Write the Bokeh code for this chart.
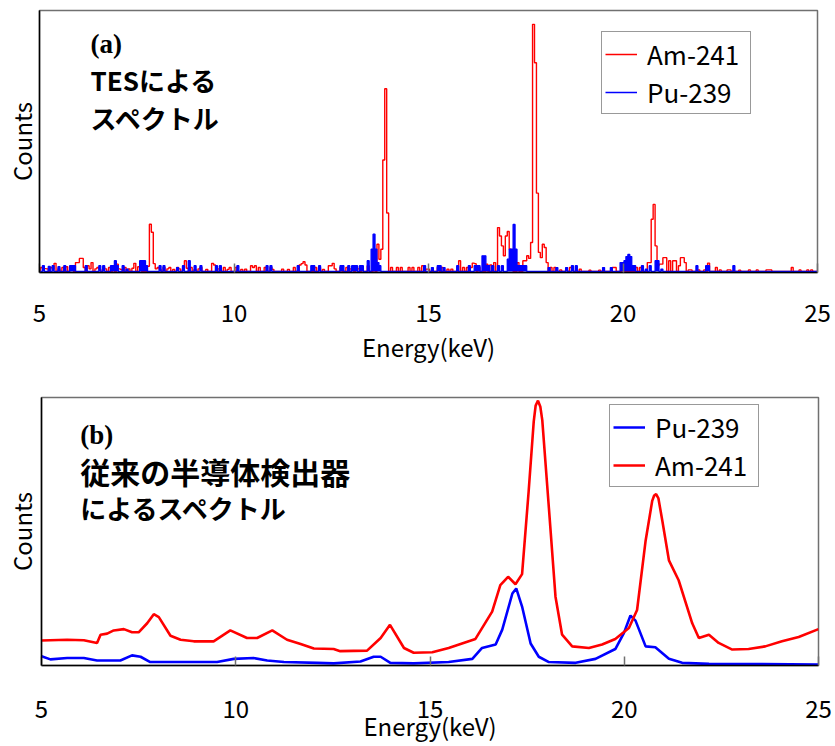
import numpy as np
from bokeh.plotting import figure
from bokeh.layouts import column
from bokeh.models import (Range1d, FixedTicker, Legend, LegendItem, Label)
from bokeh.embed import file_html
from bokeh.resources import INLINE

# ---------------- data ----------------
tick_values = [5, 10, 15, 20, 25]

# (a) TES spectrum: non-empty 0.05 keV bins (energy keV, relative counts)
tes_am_energy = [5.05, 5.1, 5.15, 5.2, 5.3, 5.35, 5.4, 5.5, 5.6, 5.7, 5.8, 5.85, 5.95, 6.0, 6.05, 6.1,
                 6.15, 6.25, 6.3, 6.35, 6.45, 6.5, 6.55, 6.65, 6.7, 6.8, 6.9, 7.0, 7.05, 7.1, 7.2, 7.3,
                 7.4, 7.45, 7.55, 7.6, 7.8, 7.85, 7.9, 7.95, 8.0, 8.05, 8.1, 8.2, 8.3, 8.35, 8.45, 8.55,
                 8.6, 8.7, 8.75, 8.8, 8.9, 9.0, 9.1, 9.15, 9.3, 9.45, 9.5, 9.6, 9.75, 9.85, 9.9, 10.05,
                 10.2, 10.3, 10.45, 10.5, 10.55, 10.65, 10.8, 10.95, 11.0, 11.25, 11.4, 11.55, 11.7,
                 11.75, 11.8, 11.85, 12.1, 12.2, 12.3, 12.45, 12.5, 12.55, 12.6, 12.75, 12.9, 13.0,
                 13.05, 13.15, 13.2, 13.3, 13.45, 13.6, 13.7, 13.75, 13.8, 13.85, 13.9, 13.95, 14.05,
                 14.2, 14.3, 14.5, 14.6, 14.75, 14.85, 14.95, 15.0, 15.25, 15.35, 15.5, 15.6, 15.8,
                 15.9, 16.0, 16.1, 16.15, 16.2, 16.3, 16.5, 16.6, 16.7, 16.8, 16.85, 16.9, 16.95, 17.0,
                 17.05, 17.1, 17.15, 17.3, 17.45, 17.5, 17.55, 17.6, 17.65, 17.7, 17.75, 17.8, 17.85,
                 17.9, 17.95, 18.0, 18.05, 18.15, 18.25, 18.4, 18.55, 18.65, 18.7, 18.9, 19.15, 19.4,
                 19.75, 19.8, 20.0, 20.35, 20.45, 20.65, 20.7, 20.75, 20.8, 20.85, 20.9, 20.95, 21.0,
                 21.05, 21.1, 21.2, 21.3, 21.35, 21.45, 21.5, 21.55, 21.6, 21.7, 21.75, 21.95, 22.1,
                 22.2, 22.4, 22.5, 22.7, 22.75, 23.0, 23.25, 23.45, 23.7, 23.75, 23.8, 24.35, 24.55,
                 24.75, 24.85]
tes_am_counts = [1.5, 0.8, 1.1, 1.0, 1.5, 0.8, 3.1, 1.0, 1.5, 1.8, 0.8, 1.2, 3.4, 3.4, 5.0, 5.0,
                 1.5, 2.2, 1.0, 3.4, 1.0, 1.5, 0.8, 1.5, 1.0, 1.5, 1.0, 2.8, 1.0, 0.8, 1.5, 1.0,
                 1.2, 3.1, 1.8, 1.0, 2.0, 18.1, 15.0, 3.0, 1.0, 1.5, 0.8, 1.5, 1.0, 1.5, 0.8, 1.5,
                 1.0, 1.0, 4.1, 1.2, 1.5, 0.8, 1.0, 1.5, 0.8, 3.1, 2.5, 1.0, 1.5, 0.8, 1.5, 1.5,
                 0.8, 0.9, 2.2, 1.5, 2.2, 1.5, 1.5, 1.5, 0.8, 0.9, 0.8, 1.5, 2.5,
                 3.0, 3.7, 2.5, 1.5, 1.5, 0.8, 2.2, 2.2, 3.1, 1.0, 1.5, 1.5, 1.0,
                 1.8, 1.8, 1.0, 1.5, 2.2, 1.0, 10.4, 4.7, 8.5, 42.7, 70.0, 22.4, 1.5,
                 1.5, 1.5, 1.5, 1.5, 1.5, 2.2, 0.9, 0.9, 1.5, 1.5, 0.9, 0.9, 4.1,
                 1.5, 1.5, 1.5, 3.2, 3.0, 1.5, 2.8, 2.5, 3.4, 16.8, 13.6, 9.8, 6.0, 13.6,
                 15.3, 8.5, 4.1, 3.4, 4.1, 4.1, 6.0, 5.0, 11.1, 94.7, 80.0, 30.0, 7.3,
                 5.3, 10.4, 9.2, 3.4, 1.5, 1.5, 0.6, 0.6, 1.5, 1.5, 0.9, 0.5, 0.5,
                 1.5, 1.5, 1.5, 1.5, 1.5, 3.4, 3.4, 20.0, 25.7, 9.8, 2.2, 2.8, 2.8,
                 5.3, 5.3, 4.1, 4.1, 4.1, 2.2, 5.3, 5.3, 3.4, 0.6, 0.6, 0.6, 0.6,
                 3.2, 1.5, 0.6, 0.6, 0.6, 0.5, 0.6, 0.6, 0.6, 0.6, 0.6, 1.5, 0.6,
                 0.6, 0.6]

tes_pu_energy = [5.1, 5.25, 5.35, 5.5, 5.65, 5.8, 5.85, 5.9, 6.2, 6.55, 6.65, 6.85, 6.9, 6.95, 7.0,
                 7.15, 7.25, 7.6, 7.65, 7.7, 7.75, 8.1, 8.2, 8.55, 8.7, 8.85, 9.0, 9.15, 9.55, 9.65,
                 10.1, 10.85, 10.95, 11.65, 12.0, 12.05, 12.2, 12.75, 12.8, 12.95, 13.05, 13.1, 13.15,
                 13.25, 13.3, 13.45, 13.55, 13.6, 13.65, 13.7, 13.75, 14.9, 15.1, 15.25, 15.3, 15.4,
                 15.75, 16.05, 16.2, 16.25, 16.3, 16.4, 16.45, 16.5, 16.55, 16.65, 16.8, 16.9, 17.05,
                 17.1, 17.15, 17.2, 17.25, 17.3, 17.35, 17.4, 17.45, 17.5, 18.1, 18.3, 18.55, 18.7,
                 18.8, 19.5, 19.7, 19.95, 20.0, 20.05, 20.1, 20.15, 20.2, 20.25, 20.3, 20.5, 20.6,
                 20.7, 20.85, 20.9, 21.0, 21.9, 22.15, 22.2, 22.85]
tes_pu_counts = [2.2, 1.9, 2.2, 1.8, 2.2, 2.2, 2.2, 2.2, 2.2, 2.2, 2.2, 2.2, 2.2, 4.1, 2.2,
                 2.2, 0.9, 4.1, 4.1, 4.1, 2.2, 2.2, 2.2, 1.5, 2.2, 4.1, 2.2, 2.2, 2.2, 2.2,
                 2.2, 2.2, 2.2, 2.2, 2.2, 2.2, 2.2, 2.2, 2.2, 2.2, 2.2, 2.2, 2.2,
                 2.2, 2.2, 4.1, 8.5, 14.3, 8.5, 3.4, 2.2, 2.2, 1.5, 2.2, 2.2, 1.5,
                 2.2, 2.2, 2.2, 2.2, 2.2, 6.0, 6.0, 2.2, 2.2, 2.2, 2.2, 2.2, 4.7,
                 8.5, 8.5, 18.0, 8.5, 2.2, 2.2, 2.2, 2.2, 2.2, 1.5, 1.5, 1.5, 2.2,
                 2.2, 1.5, 1.5, 3.4, 3.4, 4.1, 5.7, 6.5, 5.7, 2.2, 2.2, 2.2, 0.9,
                 2.2, 4.1, 4.1, 0.9, 2.2, 2.2, 2.2, 2.2]

# (b) conventional semiconductor detector spectrum
sc_am_energy = [5.0, 5.66, 6.09, 6.43, 6.52, 6.69, 6.86, 7.12, 7.33, 7.5, 7.72, 7.89, 8.02, 8.32,
                8.58, 8.92, 9.43, 9.86, 10.29, 10.55, 10.94, 11.32, 11.67, 12.01, 12.52, 12.69,
                13.38, 13.73, 13.97, 14.33, 14.58, 15.06, 15.48, 16.17, 16.6, 16.81, 17.01, 17.2,
                17.37, 17.54, 17.67, 17.72, 17.78, 17.84, 17.89, 18.06, 18.23, 18.4, 18.66, 19.09,
                19.43, 19.77, 20.12, 20.33, 20.55, 20.72, 20.77, 20.82, 20.88, 20.98, 21.15, 21.4,
                21.75, 21.92, 22.18, 22.43, 22.78, 23.2, 23.63, 24.06, 24.49, 25.0]
sc_am_counts = [9.0, 9.3, 9.1, 8.1, 11.2, 11.6, 12.8, 13.3, 12.1, 12.1, 15.5, 18.9, 17.8, 10.8,
                9.3, 8.7, 8.7, 12.8, 9.95, 9.95, 12.8, 9.3, 7.7, 6.0, 5.8, 5.0,
                5.2, 9.95, 14.9, 6.2, 4.4, 4.6, 6.2, 9.6, 19.9, 29.9, 33.0, 30.2,
                34.0, 65.3, 91.4, 97.5, 99.3, 97.0, 92.0, 59.0, 25.5, 11.2, 6.8, 6.2,
                7.5, 9.6, 13.7, 20.5, 46.6, 61.6, 63.6, 64.1, 62.5, 54.1, 39.2, 31.7,
                15.5, 9.95, 11.2, 8.1, 5.6, 5.8, 6.8, 8.7, 10.3, 13.3]

sc_pu_energy = [5.0, 5.23, 5.66, 6.09, 6.43, 7.03, 7.33, 7.55, 7.8, 9.52, 9.95, 10.46, 10.81,
                11.24, 12.1, 12.52, 13.21, 13.55, 13.73, 13.98, 14.58, 15.48, 16.09, 16.34, 16.69,
                16.86, 17.12, 17.22, 17.37, 17.59, 17.8, 18.06, 18.75, 19.26, 19.77, 19.99, 20.16,
                20.29, 20.55, 20.8, 21.15, 21.49, 22.18, 25.0]
sc_pu_counts = [3.1, 1.9, 2.4, 2.4, 1.5, 1.5, 3.4, 2.9, 0.9, 0.9, 2.1, 2.4, 1.5,
                0.9, 0.6, 0.4, 1.1, 2.9, 2.9, 0.6, 0.4, 0.9, 2.1, 6.2, 7.5,
                13.1, 26.7, 28.6, 21.8, 7.9, 2.9, 0.9, 0.6, 2.1, 5.8, 11.8, 18.4,
                16.5, 6.8, 6.5, 2.1, 0.6, 0.2, 0.0]

# histogram grid for the TES spectrum (empty bins are zero)
bin_energy = np.round(np.arange(5.0, 25.0001, 0.05), 2)


def to_hist(energies, counts):
    h = np.zeros(len(bin_energy))
    idx = {round(float(e), 2): i for i, e in enumerate(bin_energy)}
    for e, c in zip(energies, counts):
        h[idx[round(e, 2)]] = c
    return h


tes_am_hist = to_hist(tes_am_energy, tes_am_counts)
tes_pu_hist = to_hist(tes_pu_energy, tes_pu_counts)
zeros = np.zeros(len(bin_energy))

FONT = "Noto Sans CJK JP"
RED = "#FF0000"
BLUE = "#0000FF"


def style(p, tick_standoff, label_standoff, ylabel_standoff):
    p.xaxis.ticker = FixedTicker(ticks=tick_values)
    p.xaxis.major_label_text_font = FONT
    p.xaxis.major_label_text_font_size = "24px"
    p.xaxis.major_label_text_color = "black"
    p.xaxis.major_label_standoff = tick_standoff
    p.xaxis.major_tick_in = 9
    p.xaxis.major_tick_out = 0
    p.xaxis.major_tick_line_color = "#707070"
    p.xaxis.major_tick_line_width = 1.5
    p.xaxis.minor_tick_line_color = None
    p.xaxis.axis_line_color = "black"
    p.xaxis.axis_line_width = 1.5
    p.xaxis.axis_label = "Energy(keV)"
    p.xaxis.axis_label_text_font = FONT
    p.xaxis.axis_label_text_font_style = "normal"
    p.xaxis.axis_label_text_font_size = "24px"
    p.xaxis.axis_label_text_color = "black"
    p.xaxis.axis_label_standoff = label_standoff
    p.yaxis.ticker = FixedTicker(ticks=[])
    p.yaxis.minor_tick_line_color = None
    p.yaxis.major_tick_out = 0
    p.yaxis.major_tick_in = 0
    p.yaxis.major_label_standoff = 0
    p.yaxis.axis_line_color = "black"
    p.yaxis.axis_line_width = 1.5
    p.yaxis.axis_label = "Counts"
    p.yaxis.axis_label_text_font = FONT
    p.yaxis.axis_label_text_font_style = "normal"
    p.yaxis.axis_label_text_font_size = "24px"
    p.yaxis.axis_label_text_color = "black"
    p.yaxis.axis_label_standoff = ylabel_standoff
    p.grid.visible = False
    p.outline_line_color = "#707070"
    p.outline_line_width = 1.5
    p.background_fill_color = "white"
    p.border_fill_color = "white"


def legend(items, loc):
    return Legend(items=items, location=loc, label_text_font=FONT, label_text_font_size="26px",
                  label_text_color="black", glyph_width=32, glyph_height=30, label_height=30,
                  label_width=100, spacing=1, padding=3, margin=0, label_standoff=10,
                  border_line_color="#333333", border_line_width=1.5, background_fill_alpha=1.0)


# ---------------- (a) TES ----------------
p1 = figure(width=835, height=375, output_backend="svg", toolbar_location=None,
            x_range=Range1d(5, 25), y_range=Range1d(-0.4, 100), frame_align=False,
            min_border_left=37, min_border_right=18, min_border_top=10, min_border_bottom=103)
style(p1, 31, 4, 1)
r_am1 = p1.step(bin_energy, tes_am_hist, mode="center", line_color=RED, line_width=1.4)
p1.varea_step(x=bin_energy, y1=zeros, y2=tes_pu_hist, step_mode="center", fill_color=BLUE)
r_pu1 = p1.step(bin_energy, tes_pu_hist, mode="center", line_color=BLUE, line_width=1.3)
p1.add_layout(legend([LegendItem(label="Am-241", renderers=[r_am1]),
                      LegendItem(label="Pu-239", renderers=[r_pu1])], (562, 158)))
p1.add_layout(Label(x=6.31, y=87.3, text="(a)", text_font="Liberation Serif", text_font_style="bold",
                    text_font_size="27px", text_baseline="middle", text_color="black"))
p1.add_layout(Label(x=6.31, y=73.5, text="TESによる", text_font=FONT, text_font_style="bold",
                    text_font_size="26px", text_baseline="middle", text_color="black"))
p1.add_layout(Label(x=6.31, y=58.9, text="スペクトル", text_font=FONT, text_font_style="bold",
                    text_font_size="26px", text_baseline="middle", text_color="black"))

# ---------------- (b) semiconductor ----------------
p2 = figure(width=835, height=371, output_backend="svg", toolbar_location=None,
            x_range=Range1d(5, 25), y_range=Range1d(-0.4, 100.5), frame_align=False,
            min_border_left=41, min_border_right=17, min_border_top=22, min_border_bottom=81)
style(p2, 34, -13, 3)
r_pu2 = p2.line(sc_pu_energy, sc_pu_counts, line_color=BLUE, line_width=2.6)
r_am2 = p2.line(sc_am_energy, sc_am_counts, line_color=RED, line_width=2.6)
p2.add_layout(legend([LegendItem(label="Pu-239", renderers=[r_pu2]),
                      LegendItem(label="Am-241", renderers=[r_am2])], (568, 178)))
p2.add_layout(Label(x=6.0, y=86.5, text="(b)", text_font="Liberation Serif", text_font_style="bold",
                    text_font_size="27px", text_baseline="middle", text_color="black"))
p2.add_layout(Label(x=6.0, y=72.9, text="従来の半導体検出器", text_font=FONT, text_font_style="bold",
                    text_font_size="30px", text_baseline="middle", text_color="black"))
p2.add_layout(Label(x=6.0, y=58.9, text="によるスペクトル", text_font=FONT, text_font_style="bold",
                    text_font_size="26px", text_baseline="middle", text_color="black"))

layout = column(p1, p2, spacing=0)
open("out.html", "w").write(file_html(layout, INLINE))
